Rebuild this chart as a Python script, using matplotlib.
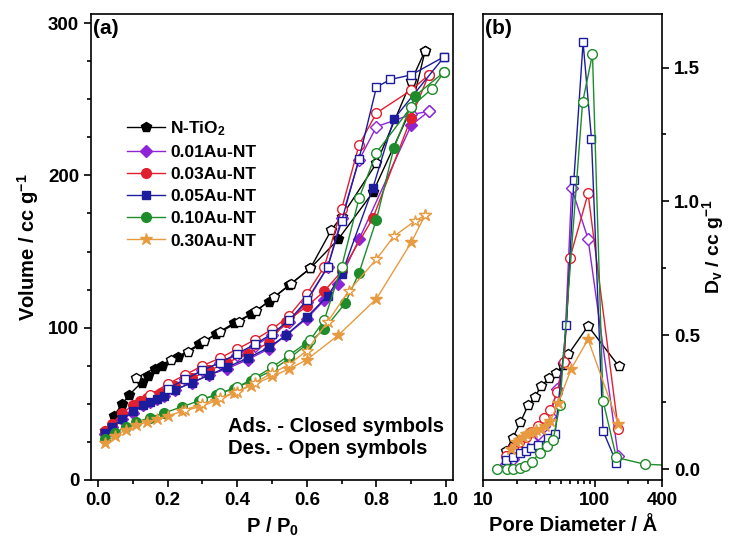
import numpy as np
import matplotlib
matplotlib.use("Agg")
import matplotlib.pyplot as plt
from matplotlib.ticker import MultipleLocator, FixedLocator, NullFormatter

plt.rcParams["font.family"] = ["Liberation Sans", "DejaVu Sans"]
plt.rcParams["font.weight"] = "bold"
plt.rcParams["mathtext.fontset"] = "custom"
plt.rcParams["mathtext.rm"] = "Liberation Sans:bold"
plt.rcParams["mathtext.it"] = "Liberation Sans:bold"
plt.rcParams["mathtext.bf"] = "Liberation Sans:bold"

labels = ["N-TiO$_2$", "0.01Au-NT", "0.03Au-NT", "0.05Au-NT", "0.10Au-NT", "0.30Au-NT"]

# (a) isotherms: adsorption (closed) / desorption (open)
ads_p = [
    [0.02, 0.045, 0.07, 0.09, 0.125, 0.145, 0.165, 0.185, 0.23, 0.29, 0.34, 0.39, 0.44, 0.49, 0.55, 0.61, 0.69, 0.79, 0.90, 0.94],
    [0.02, 0.04, 0.07, 0.10, 0.13, 0.15, 0.17, 0.19, 0.22, 0.27, 0.32, 0.37, 0.43, 0.49, 0.54, 0.60, 0.65, 0.69, 0.75, 0.90, 0.95],
    [0.02, 0.04, 0.07, 0.10, 0.12, 0.14, 0.16, 0.18, 0.22, 0.27, 0.32, 0.37, 0.43, 0.49, 0.54, 0.60, 0.65, 0.70, 0.79, 0.90, 0.95],
    [0.02, 0.04, 0.07, 0.10, 0.13, 0.15, 0.17, 0.19, 0.22, 0.27, 0.32, 0.37, 0.43, 0.49, 0.54, 0.60, 0.66, 0.70, 0.79, 0.85, 0.995],
    [0.02, 0.05, 0.08, 0.11, 0.15, 0.19, 0.24, 0.29, 0.34, 0.39, 0.44, 0.50, 0.55, 0.60, 0.65, 0.71, 0.75, 0.80, 0.85, 0.91, 0.995],
    [0.02, 0.05, 0.08, 0.11, 0.14, 0.17, 0.20, 0.24, 0.29, 0.34, 0.39, 0.44, 0.50, 0.55, 0.60, 0.69, 0.80, 0.90, 0.94],
]
ads_v = [
    [32, 42, 50, 56, 64, 68, 73, 75, 81, 89, 96, 103, 109, 117, 128, 139, 158, 189, 244, 282],
    [30, 35, 40, 44, 49, 51, 53, 55, 59, 64, 69, 73, 79, 86, 95, 106, 118, 129, 158, 233, 242],
    [32, 37, 44, 49, 52, 54, 55, 57, 62, 67, 72, 77, 83, 90, 104, 114, 124, 137, 172, 238, 266],
    [31, 35, 40, 45, 49, 51, 53, 55, 59, 64, 69, 74, 80, 87, 95, 107, 121, 135, 192, 237, 278],
    [27, 31, 35, 38, 41, 44, 48, 52, 56, 60, 65, 72, 80, 89, 99, 116, 136, 171, 218, 252, 268],
    [24, 29, 33, 36, 38, 40, 42, 45, 48, 52, 57, 62, 68, 73, 79, 95, 119, 156, 174],
]
des_p = [
    [0.94, 0.90, 0.80, 0.70, 0.67, 0.61, 0.555, 0.505, 0.455, 0.405, 0.35, 0.305, 0.26, 0.21, 0.11],
    [0.95, 0.90, 0.80, 0.75, 0.70, 0.66, 0.60, 0.55, 0.50, 0.45, 0.40, 0.35, 0.30, 0.25, 0.20, 0.15],
    [0.95, 0.90, 0.80, 0.75, 0.70, 0.65, 0.60, 0.55, 0.50, 0.45, 0.40, 0.35, 0.30, 0.25, 0.20, 0.15],
    [0.995, 0.90, 0.84, 0.80, 0.75, 0.70, 0.66, 0.60, 0.55, 0.50, 0.45, 0.40, 0.35, 0.30, 0.25, 0.20],
    [0.995, 0.96, 0.90, 0.80, 0.75, 0.70, 0.65, 0.61, 0.55, 0.50, 0.45, 0.40, 0.35, 0.30],
    [0.94, 0.91, 0.85, 0.80, 0.72, 0.66, 0.60, 0.55, 0.50, 0.45, 0.40, 0.35, 0.30, 0.25],
]
des_v = [
    [282, 262, 208, 173, 164, 139, 129, 120, 111, 104, 97, 91, 84, 79, 67],
    [242, 240, 232, 210, 172, 140, 117, 104, 95, 88, 82, 77, 72, 66, 60, 54],
    [266, 256, 241, 220, 178, 140, 122, 108, 99, 92, 86, 80, 75, 69, 63, 56],
    [278, 266, 263, 258, 211, 170, 140, 118, 105, 96, 89, 83, 77, 72, 66, 60],
    [268, 257, 245, 215, 185, 140, 105, 92, 82, 74, 67, 61, 57, 53],
    [174, 170, 160, 145, 124, 104, 85, 76, 70, 64, 58, 54, 50, 46],
]

# (b) pore size distributions
pd_d = [
    [16, 18.3, 21.5, 25.3, 29, 33, 38.9, 45, 52, 58, 87, 164],
    [16, 18.3, 21, 24, 27, 31, 35, 40, 46, 53, 62, 87, 162],
    [16, 18.3, 21, 24, 27, 31, 35, 40, 46, 53, 60, 87, 162],
    [16, 18.5, 21.3, 24, 27, 31, 38, 44, 55.7, 64.9, 78.5, 93.3, 118.6, 156],
    [13.3, 16.2, 18.6, 21.3, 23.6, 27.1, 32.2, 37.4, 42.3, 48.6, 77.7, 95.3, 118.6, 156, 280, 450],
    [17.9, 19.5, 21, 22.5, 24, 26, 28, 30, 33, 36, 40, 46.8, 61.6, 87, 162],
]
pd_v = [
    [0.07, 0.115, 0.175, 0.24, 0.27, 0.31, 0.34, 0.36, 0.39, 0.43, 0.535, 0.385],
    [0.02, 0.04, 0.07, 0.09, 0.11, 0.13, 0.16, 0.2, 0.3, 0.4, 1.05, 0.86, 0.05],
    [0.05, 0.08, 0.1, 0.12, 0.14, 0.16, 0.19, 0.22, 0.29, 0.4, 0.79, 1.03, 0.15],
    [0.035, 0.045, 0.06, 0.07, 0.08, 0.09, 0.115, 0.13, 0.537, 1.08, 1.594, 1.235, 0.143, 0.025],
    [0.0, 0.0, 0.0, 0.005, 0.012, 0.027, 0.062, 0.087, 0.11, 0.24, 1.37, 1.55, 0.255, 0.044, 0.019, 0.015],
    [0.075, 0.1, 0.11, 0.12, 0.13, 0.135, 0.14, 0.145, 0.15, 0.16, 0.18, 0.246, 0.376, 0.485, 0.17],
]

colors = ["#000000", "#8E24D6", "#E0202E", "#1C1C9C", "#1E8C2A", "#E89A40"]
markers = ["p", "D", "o", "s", "o", "*"]
msizes = [7, 6, 7, 6, 7, 9]

fig = plt.figure(figsize=(7.3, 5.48), dpi=100)
ax1 = fig.add_axes([0.1247, 0.1241, 0.4959, 0.8504])
ax2 = fig.add_axes([0.662, 0.1241, 0.2448, 0.8504])

handles = []
for i in range(6):
    h, = ax1.plot(ads_p[i], ads_v[i], color=colors[i], marker=markers[i], ms=msizes[i],
                  lw=1, mec=colors[i], mfc=colors[i], label=labels[i])
    ax1.plot(des_p[i], des_v[i], color=colors[i], marker=markers[i], ms=msizes[i],
             lw=1, mec=colors[i], mfc="white")
    handles.append(h)

ax1.set_xlim(-0.02, 1.02)
ax1.set_ylim(0, 306)
ax1.xaxis.set_major_locator(MultipleLocator(0.2))
ax1.xaxis.set_minor_locator(MultipleLocator(0.1))
ax1.yaxis.set_major_locator(MultipleLocator(100))
ax1.yaxis.set_minor_locator(MultipleLocator(25))
ax1.xaxis.set_major_formatter(matplotlib.ticker.FormatStrFormatter("%.1f"))
ax1.tick_params(which="both", direction="out", labelsize=13.5, width=1.2)
ax1.tick_params(which="major", length=5)
ax1.tick_params(which="minor", length=3)
ax1.set_xlabel("P / P$_0$", fontsize=14.5, fontweight="bold", labelpad=5)
ax1.set_ylabel("Volume / cc g$^{-1}$", fontsize=14.5, fontweight="bold", labelpad=5)
ax1.text(0.005, 0.99, "(a)", transform=ax1.transAxes, fontsize=15, fontweight="bold", va="top")
ax1.text(0.378, 0.091, "Ads. - Closed symbols\nDes. - Open symbols", transform=ax1.transAxes,
         fontsize=14.5, fontweight="bold", ha="left", va="center", linespacing=1.2)
ax1.legend(handles=handles, loc="upper left", bbox_to_anchor=(0.065, 0.8), frameon=False,
           fontsize=12.5, handlelength=2.2, labelspacing=0.4, borderpad=0.2, handletextpad=0.3)

for i in range(6):
    mfc = colors[i] if i == 5 else "white"
    ax2.plot(pd_d[i], pd_v[i], color=colors[i], marker=markers[i], ms=msizes[i],
             lw=1, mec=colors[i], mfc=mfc)

ax2.set_xscale("log")
ax2.set_xlim(10, 400)
ax2.set_ylim(-0.04, 1.70)
ax2.xaxis.set_major_locator(FixedLocator([10, 100, 400]))
ax2.xaxis.set_major_formatter(matplotlib.ticker.FixedFormatter(["10", "100", "400"]))
ax2.xaxis.set_minor_locator(FixedLocator([20, 30, 40, 50, 60, 70, 80, 90, 200, 300]))
ax2.xaxis.set_minor_formatter(NullFormatter())
ax2.yaxis.set_major_locator(MultipleLocator(0.5))
ax2.yaxis.set_minor_locator(MultipleLocator(0.25))
ax2.yaxis.tick_right()
ax2.yaxis.set_label_position("right")
ax2.tick_params(which="both", direction="out", labelsize=13.5, width=1.2)
ax2.tick_params(which="major", length=5)
ax2.tick_params(which="minor", length=3)
ax2.set_xlabel("Pore Diameter / Å", fontsize=14.5, fontweight="bold", labelpad=5)
ax2.set_ylabel("D$_v$ / cc g$^{-1}$", fontsize=14, fontweight="bold", labelpad=0)
ax2.text(0.01, 0.99, "(b)", transform=ax2.transAxes, fontsize=15, fontweight="bold", va="top")

for ax in (ax1, ax2):
    for s in ax.spines.values():
        s.set_linewidth(1.2)

fig.savefig("out.png", dpi=100)
